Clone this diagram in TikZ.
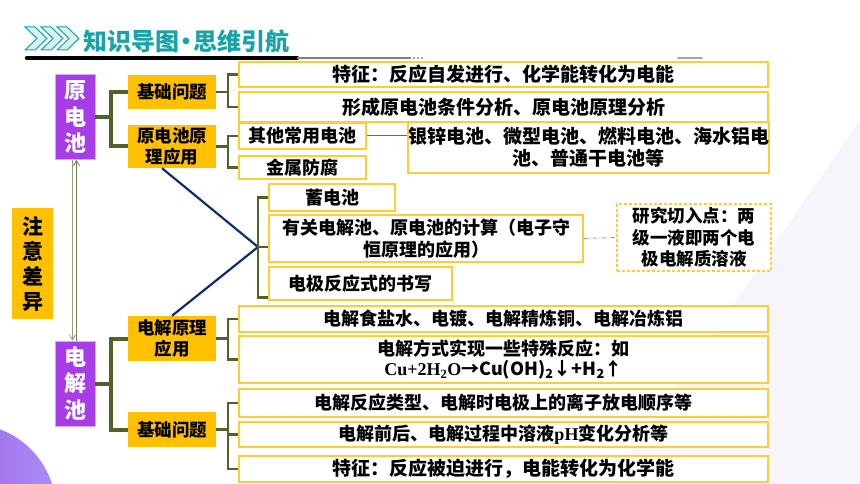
\documentclass[tikz,border=0pt]{standalone}
\usepackage{fontspec}
\setmainfont{Noto Sans CJK SC}
\newfontfamily\serifx{Liberation Serif}
\usetikzlibrary{positioning,arrows.meta,calc}

\definecolor{violetbox}{HTML}{A63DE8}
\definecolor{amber}{HTML}{FFC000}
\definecolor{leafline}{HTML}{FFCC33}
\definecolor{branchgreen}{HTML}{4F6228}
\definecolor{crossblue}{HTML}{102D6C}
\definecolor{violetline}{HTML}{8E44C8}
\definecolor{titleteal}{HTML}{17A3A8}
\definecolor{arrowgray}{HTML}{8C9C84}
\definecolor{bgtint}{HTML}{F6F5FC}
\definecolor{circleA}{HTML}{9A4FDC}
\definecolor{circleB}{HTML}{A98CF6}

\begin{document}
\begin{tikzpicture}[
    x=1pt, y=-1pt,
    box/.style   = {inner sep=0pt, align=center},
    root/.style  = {box, fill=violetbox, draw=violetbox!45, line width=0.8pt,
                    text=white, minimum width=40pt, minimum height=85pt,
                    font=\fontsize{22}{26.5}\selectfont\bfseries},
    note/.style  = {box, fill=amber, minimum width=41pt, minimum height=111pt,
                    font=\fontsize{21}{25}\selectfont\bfseries},
    topic/.style = {box, fill=amber, minimum width=88pt,
                    font=\fontsize{17.5}{21}\selectfont\bfseries},
    leaf/.style  = {box, draw=leafline, line width=1.3pt, fill=white,
                    font=\fontsize{18}{22}\selectfont\bfseries},
    trunk/.style = {draw=branchgreen, line width=4pt},
    link/.style  = {draw=branchgreen, line width=2.5pt},
    cross/.style = {draw=crossblue, line width=2.2pt},
    pair/.style  = {-{Straight Barb[length=5pt,width=6pt]}, line width=0.8pt},
]

%% -- Page and template decoration ------------------------------------------
\useasboundingbox (0,0) rectangle (860,484);
\fill[white] (0,0) rectangle (860,484);
\begin{scope}
  \clip (0,0) rectangle (860,484);
  \fill[bgtint] (610,484) -- (860,120) -- (860,484) -- cycle;
  \shade[left color=circleA, right color=circleB] (-30,510) circle (86pt);
\end{scope}

%% -- Title ------------------------------------------------------------------
\foreach \dx in {0,16,32}
  \draw[titleteal, line width=1pt, fill=titleteal!15]
    (25+\dx,27) -- ++(10,0) -- ++(12,11.5) -- ++(-12,11.5) -- ++(-10,0)
    -- ++(12,-11.5) -- cycle;
\node[box, anchor=west, text=titleteal, font=\fontsize{24}{24}\selectfont\bfseries]
  (title) at (83,41) {知识导图\kern-5pt·\kern-5pt思维引航};
\draw[line width=4.5pt, line cap=round] (27,58) -- (297,58);
\draw[gray, line width=2pt] (297,58) -- (411,58);
\foreach \dx in {0,4,8}
  \fill[gray] (414+\dx,58) circle (1.2pt);
\draw[gray!70, line width=2pt, line cap=round] (678,58) -- (702,58);

%% -- Roots ------------------------------------------------------------------
\node[root] (yc) at (75,117)   {原\\电\\池};
\node[root] (dj) at (75,383.5) {电\\解\\池};
\node[note] (zy) at (32.5,263.5) {注\\意\\差\\异};

\draw[pair, draw=arrowgray]   ([xshift=-2.5pt]yc.south) -- ([xshift=-2.5pt]dj.north);
\draw[pair, draw=branchgreen!80] ([xshift=1.5pt]dj.north) -- ([xshift=1.5pt]yc.south);

%% -- Topics -----------------------------------------------------------------
\node[topic, minimum height=34pt] (jc1) at (172,92)    {基础问题};
\node[topic, minimum height=43pt] (yy1) at (172,146.5) {原电池原\\理应用};
\node[topic, minimum height=45pt] (yy2) at (172,338.5) {电解原理\\应用};
\node[topic, minimum height=35pt] (jc2) at (172,429.5) {基础问题};

%% -- Galvanic cell leaves ---------------------------------------------------
\node[leaf, minimum width=529pt, minimum height=25pt,
      font=\fontsize{19}{22}\selectfont\bfseries] (a1) at (503.5,74.5)
  {特征：反应自发进行、化学能转化为电能};
\node[leaf, minimum width=529pt, minimum height=30pt,
      font=\fontsize{19}{22}\selectfont\bfseries] (a2) at (503.5,107)
  {形成原电池条件分析、原电池原理分析};
\node[leaf, minimum width=127pt, minimum height=26pt] (b1) at (302.5,136)
  {其他常用电池};
\node[leaf, minimum width=127pt, minimum height=23pt] (b2) at (302.5,167.5)
  {金属防腐};
\node[leaf, minimum width=359pt, minimum height=51pt,
      font=\fontsize{19}{22}\selectfont\bfseries] (b3) at (588.5,147.5)
  {银锌电池、微型电池、燃料电池、海水铝电\\池、普通干电池等};

\draw[violetline, line width=1pt] (b1.east) -- (b1.east -| b3.west);

%% -- Shared leaves ----------------------------------------------------------
\node[leaf, minimum width=126pt, minimum height=27pt] (m1) at (332,197.5)
  {蓄电池};
\node[leaf, minimum width=314pt, minimum height=47pt] (m2) at (426,238.5)
  {有关电解池、原电池的计算（电子守\\恒原理的应用）};
\node[leaf, minimum width=183pt, minimum height=33pt] (m3) at (360.5,283.5)
  {电极反应式的书写};
\node[leaf, dash pattern=on 3pt off 2pt, minimum width=154pt, minimum height=67pt,
      font=\fontsize{17.5}{21.5}\selectfont\bfseries] (r1) at (694,237.5)
  {研究切入点：两\\级一液即两个电\\极电解质溶液};

\draw[violetline!70, line width=0.8pt, dash pattern=on 4pt off 2pt on 1pt off 2pt]
  (m2.east) -- (r1.west);

\coordinate (hub) at (258,247);
\draw[cross] ([xshift=-10pt]yy1.south) -- (hub) -- (yy2.north);
\draw[link] (m1.west) -| (hub) |- ([yshift=3pt]m3.south west);
\draw[link] (hub) -- (hub -| m2.west);

%% -- Electrolytic cell leaves -----------------------------------------------
\node[leaf, minimum width=529pt, minimum height=26pt] (c1) at (503.5,319)
  {电解食盐水、电镀、电解精炼铜、电解冶炼铝};
\node[leaf, minimum width=529pt, minimum height=47pt,
      font=\fontsize{18}{20}\selectfont\bfseries] (c2) at (503.5,359.5)
  {电解方式实现一些特殊反应：如\\{\serifx Cu+2H\textsubscript{2}O}→Cu(OH)\textsubscript{2}↓+H\textsubscript{2}↑};
\node[leaf, minimum width=529pt, minimum height=28pt] (d1) at (503.5,403)
  {电解反应类型、电解时电极上的离子放电顺序等};
\node[leaf, minimum width=529pt, minimum height=25pt] (d2) at (503.5,434.5)
  {电解前后、电解过程中溶液{\serifx pH}变化分析等};
\node[leaf, minimum width=529pt, minimum height=26pt,
      font=\fontsize{19}{22}\selectfont\bfseries] (d3) at (503.5,469)
  {特征：反应被迫进行，电能转化为化学能};

%% -- Branches ---------------------------------------------------------------
\foreach \from/\to in {yc/jc1, yc/yy1, dj/yy2, dj/jc2}
  \draw[trunk] (\from.east) -- ++(16,0) |- (\to.west);
\foreach \from/\to in {jc1/a1, jc1/a2, yy1/b1, yy1/b2,
                       yy2/c1, yy2/c2, jc2/d1, jc2/d2, jc2/d3}
  \draw[link] (\from.east) -- ++(12,0) |- (\to.west);

\end{tikzpicture}
\end{document}
